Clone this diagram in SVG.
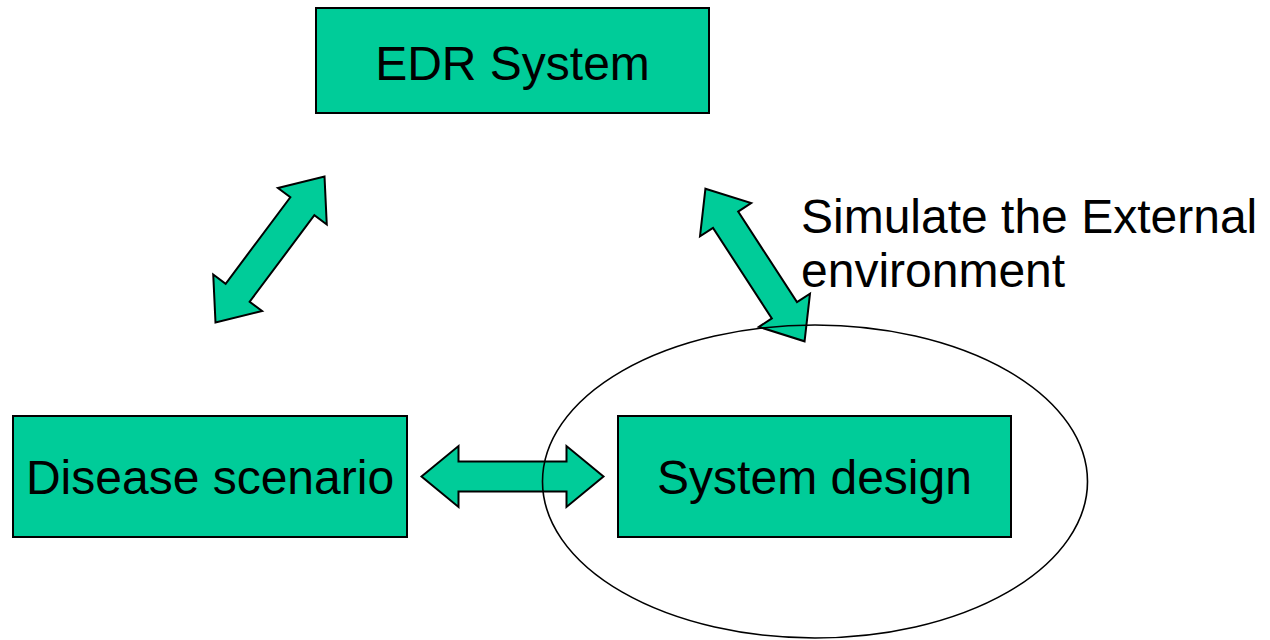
<svg xmlns="http://www.w3.org/2000/svg" width="1270" height="640" viewBox="0 0 1270 640">
<defs>
<style>
.box{fill:#00CC99;stroke:#000;stroke-width:2}
.lbl{font-family:"Liberation Sans",Arial,sans-serif;font-size:48px;fill:#000}
.arr{fill:#00CC99;stroke:#000;stroke-width:2;stroke-linejoin:miter}
.ring{fill:none;stroke:#000;stroke-width:1.6}
</style>
<path id="dbl" d="M-91,0 L-54,-30.5 L-54,-15 L54,-15 L54,-30.5 L91,0 L54,30.5 L54,15 L-54,15 L-54,30.5 Z"/>
</defs>
<rect width="1270" height="640" fill="#fff"/>
<g id="edr">
<rect class="box" x="316" y="8" width="393" height="105"/>
<text class="lbl" x="512.5" y="80" text-anchor="middle">EDR System</text>
</g>
<g id="disease">
<rect class="box" x="13" y="416" width="394" height="121"/>
<text class="lbl" x="210" y="494" text-anchor="middle">Disease scenario</text>
</g>
<g id="design">
<rect class="box" x="618" y="416" width="393" height="121"/>
<text class="lbl" x="814.5" y="494" text-anchor="middle">System design</text>
</g>
<g id="connectors">
<use href="#dbl" class="arr" transform="translate(270,249.5) rotate(-53.2)"/>
<use href="#dbl" class="arr" transform="translate(755,265) rotate(57)"/>
<use href="#dbl" class="arr" transform="translate(512.5,476.5)"/>
</g>
<g id="env">
<ellipse class="ring" cx="815" cy="481.5" rx="272.5" ry="156.5"/>
<text class="lbl" x="801" y="233">Simulate the External</text>
<text class="lbl" x="801" y="287">environment</text>
</g>
</svg>
